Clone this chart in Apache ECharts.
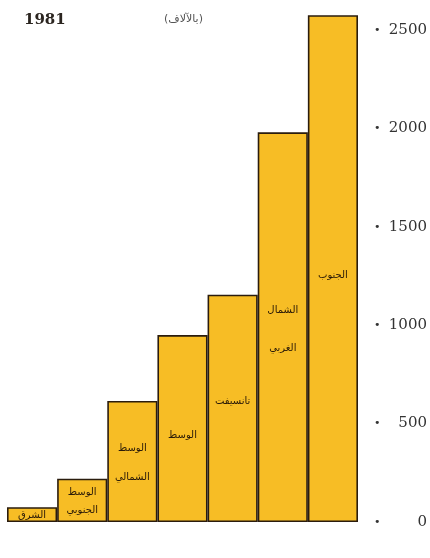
<!DOCTYPE html>
<html>
<head>
<meta charset="utf-8">
<script src="https://cdn.jsdelivr.net/npm/echarts@6/dist/echarts.min.js"></script>
<style>
html,body{margin:0;padding:0;background:#fff;}
#c{width:430px;height:558px;}
</style>
</head>
<body>
<div id="c"></div>
<script>
var categories = ['الشرق', 'الوسط الجنوبي', 'الوسط الشمالي', 'الوسط', 'تانسيفت', 'الشمال الغربي', 'الجنوب'];
var values = [75, 220, 615, 950, 1155, 1980, 2575];
var yearLabel = '1981';
var unitLabel = '(بالآلاف)';
var tickStep = 500;

var labelStyles = [
  {lineHeight: 14, offset: [0, 1]},
  {lineHeight: 18, offset: [0, 1]},
  {lineHeight: 29, offset: [0, 1]},
  {lineHeight: 14, offset: [0, 7]},
  {lineHeight: 14, offset: [0, -7]},
  {lineHeight: 38, offset: [0, 2]},
  {lineHeight: 14, offset: [0, 7]}
];

var chart = echarts.init(document.getElementById('c'));
chart.setOption({
  animation: false,
  backgroundColor: '#ffffff',
  title: [
    {text: yearLabel, left: 19, top: 8,
     textStyle: {fontFamily: 'DejaVu Serif', fontWeight: 'bold', fontSize: 15, color: '#2b2520'}},
    {text: unitLabel, left: 159, top: 9,
     textStyle: {fontFamily: 'DejaVu Sans', fontWeight: 'normal', fontSize: 11, color: '#555'}}
  ],
  grid: {left: 7, right: 71, top: 10.3, bottom: 36, containLabel: false},
  xAxis: {
    type: 'category',
    data: categories,
    axisLine: {show: false},
    axisTick: {show: false},
    axisLabel: {show: false},
    splitLine: {show: false}
  },
  yAxis: {
    type: 'value',
    position: 'right',
    min: 0,
    max: 2600,
    interval: tickStep,
    axisLine: {show: false},
    axisTick: {show: false},
    splitLine: {show: false},
    axisLabel: {
      margin: 16,
      formatter: function (v) {
        if (v % tickStep !== 0) return '';
        return '{d|•}{n|' + v + '}';
      },
      rich: {
        d: {fontSize: 11, width: 9, color: '#333', fontFamily: 'DejaVu Sans'},
        n: {fontSize: 15, width: 44, align: 'right', color: '#333', fontFamily: 'DejaVu Serif'}
      }
    }
  },
  series: [{
    type: 'bar',
    barCategoryGap: '0%',
    data: values.map(function (v, i) {
      return {
        value: v,
        label: {
          lineHeight: labelStyles[i].lineHeight,
          offset: labelStyles[i].offset
        }
      };
    }),
    itemStyle: {color: '#F7BD25', borderColor: '#2a1c0e', borderWidth: 1.6},
    label: {
      show: true,
      position: 'inside',
      fontFamily: 'DejaVu Sans',
      fontSize: 10,
      color: '#2a1a08',
      formatter: function (p) { return p.name.replace(' ', '\n'); }
    }
  }]
});
</script>
</body>
</html>
